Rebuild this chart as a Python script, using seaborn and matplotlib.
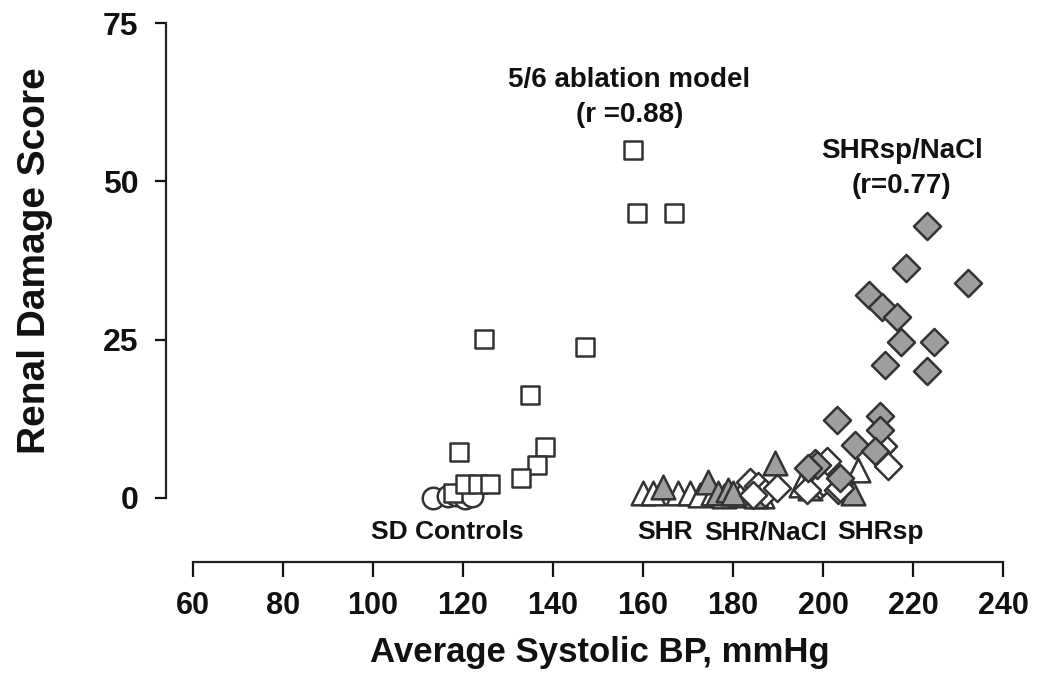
import pandas as pd
import numpy as np
import matplotlib.pyplot as plt
import seaborn as sns

# ---- data ----
sd_bp = [113.3, 116.7, 118.5, 120.4, 122.0]
sd_score = [0.0, 0.3, 0.5, 0.0, 0.3]

abl_bp = [157.8, 158.7, 166.9, 124.7, 147.1, 134.9, 138.2, 136.4, 132.9,
          119.1, 117.8, 120.4, 123.3, 126.0]
abl_score = [55.0, 45.0, 45.0, 25.1, 23.9, 16.3, 8.1, 5.2, 3.1,
             7.2, 0.8, 2.2, 2.2, 2.2]

shr_bp = [160.0, 162.2, 167.8, 170.4, 172.7, 175.5, 178.0, 181.5, 186.5, 195.0, 207.8]
shr_score = [0.8, 0.8, 0.8, 0.8, 0.5, 0.8, 0.3, 0.5, 0.3, 2.0, 4.4]

shrnacl_bp = [164.4, 174.4, 176.7, 178.9, 180.0, 189.3, 185.0, 197.0, 206.7]
shrnacl_score = [1.8, 2.5, 0.8, 1.3, 0.8, 5.6, 0.3, 1.5, 0.8]

shrsp_bp = [183.8, 185.6, 187.2, 189.8, 184.5, 198.2, 199.3, 200.0, 200.9,
            203.3, 203.8, 212.7, 213.4, 214.4, 196.5]
shrsp_score = [2.6, 1.9, 0.8, 1.6, 0.5, 5.5, 2.0, 2.6, 5.8,
               1.3, 1.6, 7.8, 8.2, 5.0, 1.3]

shrspnacl_bp = [223.1, 218.4, 232.2, 210.2, 213.1, 216.4, 217.3, 224.7, 213.8,
                223.1, 203.1, 212.7, 212.7, 207.1, 211.6, 198.6, 203.8, 196.7]
shrspnacl_score = [43.0, 36.3, 33.9, 32.0, 30.1, 28.6, 24.7, 24.7, 21.0,
                   20.1, 12.3, 13.0, 10.7, 8.3, 7.4, 5.2, 3.1, 4.7]

groups = [
    ('SD', sd_bp, sd_score, 'o', 'white', 240),
    ('5/6', abl_bp, abl_score, 's', 'white', 165),
    ('SHR', shr_bp, shr_score, '^', 'white', 290),
    ('SHR/NaCl', shrnacl_bp, shrnacl_score, '^', '#9e9e9e', 290),
    ('SHRsp', shrsp_bp, shrsp_score, 'D', 'white', 190),
    ('SHRsp/NaCl', shrspnacl_bp, shrspnacl_score, 'D', '#9e9e9e', 190),
]

sns.set_style('white')
plt.rcParams['font.family'] = ['Liberation Sans', 'DejaVu Sans']
plt.rcParams['font.weight'] = 'bold'
plt.rcParams['text.color'] = '#111111'
plt.rcParams['axes.labelcolor'] = '#111111'

fig = plt.figure(figsize=(10.39, 6.83), dpi=100)
ax = fig.add_axes([0.1598, 0.2709, 0.8056, 0.6954])

for name, bp, score, mk, fc, size in groups:
    df = pd.DataFrame({'bp': bp, 'score': score})
    sns.scatterplot(data=df, x='bp', y='score', marker=mk, s=size,
                    color=fc, edgecolor='#333333', linewidth=1.8,
                    clip_on=False, ax=ax, zorder=3)

ax.set_xlim(54, 240)
ax.set_ylim(0, 75)
ax.set_xticks(np.arange(60, 241, 20))
ax.set_yticks([0, 25, 50, 75])

for s in ['top', 'right']:
    ax.spines[s].set_visible(False)
ax.spines['left'].set_bounds(0, 75)
ax.spines['bottom'].set_bounds(60, 240)
ax.spines['bottom'].set_position(('outward', 46))
for s in ['left', 'bottom']:
    ax.spines[s].set_linewidth(1.6)
    ax.spines[s].set_color('#222222')

ax.tick_params(axis='y', left=True, direction='out', length=8, width=1.6, pad=12,
               labelsize=23, colors='#111111')
ax.tick_params(axis='x', bottom=True, direction='out', length=11, width=1.6, pad=10,
               labelsize=22, colors='#111111')
for lab in ax.get_xticklabels() + ax.get_yticklabels():
    lab.set_fontweight('bold')

ax.set_xlabel('Average Systolic BP, mmHg', fontsize=25, fontweight='bold')
ax.set_ylabel('Renal Damage Score', fontsize=28, fontweight='bold')
ax.xaxis.set_label_coords(0.5185, -0.29)
ax.yaxis.set_label_coords(-0.135, 0.5)

# annotations
ax.text(157.0, 63.2, '5/6 ablation model\n(r =0.88)', ha='center', va='center',
        fontsize=20, fontweight='bold', linespacing=1.45)
ax.text(217.5, 52.0, 'SHRsp/NaCl\n(r=0.77)', ha='center', va='center',
        fontsize=20, fontweight='bold', linespacing=1.45)
for lbl, xx in [('SD Controls', 116.5), ('SHR', 164.9), ('SHR/NaCl', 187.3),
                ('SHRsp', 212.7)]:
    ax.text(xx, -5.4, lbl, ha='center', va='center', fontsize=19,
            fontweight='bold')

fig.savefig('out.png', dpi=100)
